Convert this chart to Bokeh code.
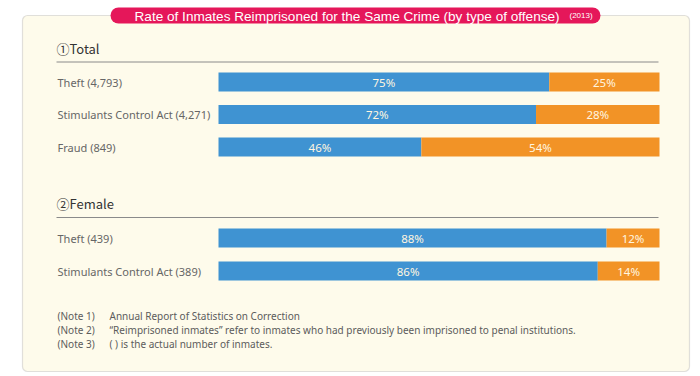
from bokeh.plotting import figure
from bokeh.models import Range1d, BoxAnnotation, Label, ColumnDataSource
from bokeh.embed import file_html
from bokeh.resources import INLINE

# ---- data ----
title = "Rate of Inmates Reimprisoned for the Same Crime (by type of offense)"
year = "(2013)"
section_titles = ["\u2460Total", "\u2461Female"]
total_labels = ["Theft (4,793)", "Stimulants Control Act (4,271)", "Fraud (849)"]
total_same = [75, 72, 46]
total_other = [25, 28, 54]
female_labels = ["Theft (439)", "Stimulants Control Act (389)"]
female_same = [88, 86]
female_other = [12, 14]
notes = [
    ("(Note 1)", "Annual Report of Statistics on Correction"),
    ("(Note 2)", "\u201cReimprisoned inmates\u201d refer to inmates who had previously been imprisoned to penal institutions."),
    ("(Note 3)", "(  ) is the actual number of inmates."),
]

# ---- layout ----
W, H = 700, 376
BAR_L, BAR_R = 218, 659
PXU = (BAR_R - BAR_L) / 100.0
x0 = -BAR_L / PXU
x1 = (W - BAR_L) / PXU


def X(px):
    return x0 + px / PXU


BLUE = "#3F93D2"
ORANGE = "#F29326"
CREAM = "#FEFBEB"

p = figure(width=W, height=H, x_range=Range1d(x0, x1), y_range=Range1d(H, 0),
           output_backend="svg", toolbar_location=None, min_border=0)
p.axis.visible = False
p.grid.visible = False
p.outline_line_color = None
p.background_fill_color = "white"
p.border_fill_color = "white"

# outer frame
p.add_layout(BoxAnnotation(left=X(22), right=X(689), top=15, bottom=371,
                           fill_color=CREAM, fill_alpha=1, line_color="#9c9c9c",
                           line_width=1.2, border_radius=5, level="underlay"))
# title pill
p.add_layout(BoxAnnotation(left=X(110), right=X(600), top=7, bottom=23,
                           fill_color="#E5175A", fill_alpha=1, line_color=None,
                           border_radius=8, level="underlay"))
p.add_layout(Label(x=X(134), y=15.5, text=title, text_color="white",
                   text_font="Liberation Sans", text_font_size="13.6px",
                   text_baseline="middle", text_align="left"))
p.add_layout(Label(x=X(569), y=15, text=year, text_color="white",
                   text_font="Liberation Sans", text_font_size="8px",
                   text_baseline="middle", text_align="left"))

HEAD_FONT = "Noto Sans CJK JP"
LABEL_FONT = "Noto Sans"


def section(title_text, title_y, rule_y, labels, same, other, top, step):
    p.add_layout(Label(x=X(56), y=title_y, text=title_text, text_color="#333333",
                       text_font=HEAD_FONT, text_font_size="13px",
                       text_baseline="middle"))
    p.segment(x0=[X(56)], y0=[rule_y], x1=[X(658)], y1=[rule_y],
              line_color="#8a8a8a", line_width=1)
    ys = [top + 9.5 + i * step for i in range(len(labels))]
    src = ColumnDataSource(dict(y=ys, same=same, other_right=[s + o for s, o in zip(same, other)],
                                mid_same=[s / 2 for s in same],
                                mid_other=[s + o / 2 for s, o in zip(same, other)],
                                t_same=[f"{v}%" for v in same],
                                t_other=[f"{v}%" for v in other]))
    p.hbar(y="y", left=0, right="same", height=19, source=src,
           fill_color=BLUE, line_color=None)
    p.hbar(y="y", left="same", right="other_right", height=19, source=src,
           fill_color=ORANGE, line_color=None)
    p.text(x="mid_same", y="y", text="t_same", source=src, text_color="#FFF6E0",
           text_font={"value": LABEL_FONT}, text_font_size="11.5px",
           text_align="center", text_baseline="middle")
    p.text(x="mid_other", y="y", text="t_other", source=src, text_color="#FFF6E0",
           text_font={"value": LABEL_FONT}, text_font_size="11.5px",
           text_align="center", text_baseline="middle")
    for lab, y in zip(labels, ys):
        p.add_layout(Label(x=X(57), y=y, text=lab, text_color="#666666",
                           text_font=LABEL_FONT, text_font_size="11px",
                           text_baseline="middle"))


section(section_titles[0], 48, 61.5, total_labels, total_same, total_other, 72, 32.5)
section(section_titles[1], 203, 217, female_labels, female_same, female_other, 228, 33)

for i, (a, b) in enumerate(notes):
    y = 315 + i * 14
    p.add_layout(Label(x=X(57), y=y, text=a, text_color="#5c5c5c",
                       text_font=LABEL_FONT, text_font_size="10px", text_baseline="middle"))
    p.add_layout(Label(x=X(109), y=y, text=b, text_color="#5c5c5c",
                       text_font=LABEL_FONT, text_font_size="10px", text_baseline="middle"))

open("out.html", "w").write(file_html(p, INLINE))
